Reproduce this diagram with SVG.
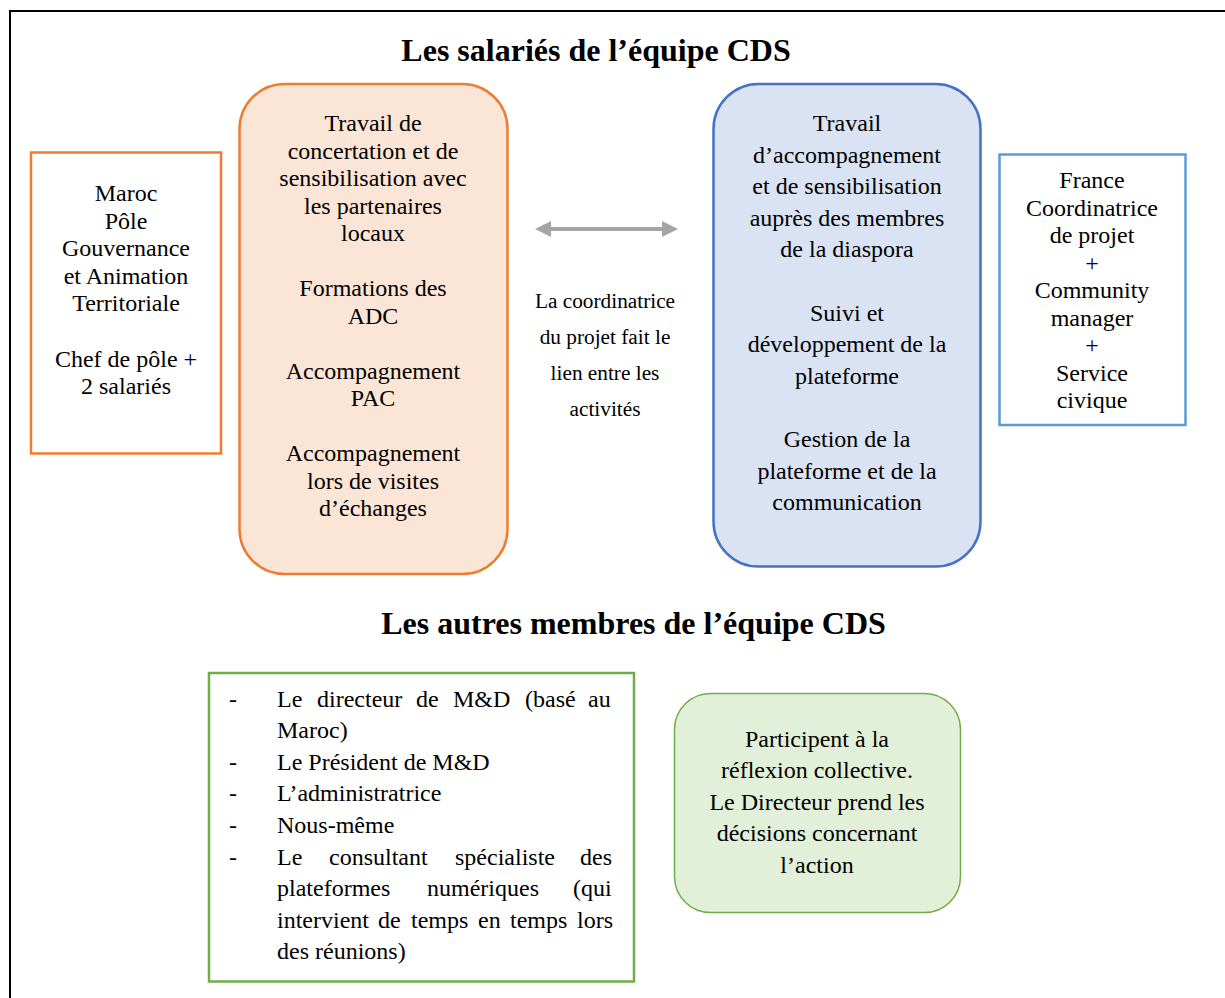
<svg xmlns="http://www.w3.org/2000/svg" width="1225" height="998" viewBox="0 0 1225 998">
<style>
text{font-family:"Liberation Serif","Times New Roman",serif;fill:#000}
.t{font-size:24px;text-anchor:middle}
.l{font-size:24px}
.m{font-size:21.3px;text-anchor:middle}
.h{font-size:32px;font-weight:bold;text-anchor:middle}
</style>
<defs>
<marker id="ah" viewBox="0 0 16 16" refX="2" refY="8" markerWidth="16" markerHeight="16" markerUnits="userSpaceOnUse" orient="auto-start-reverse">
<path d="M0,0 L16,8 L0,16 Z" fill="#A5A5A5"/>
</marker>
</defs>
<rect width="1225" height="998" fill="#fff"/>
<path d="M10,998 V11 H1225" fill="none" stroke="#000" stroke-width="2"/>

<g id="title1"><text class="h" x="596" y="61">Les salariés de l’équipe CDS</text></g>

<g id="maroc">
<rect x="31" y="152.5" width="190" height="301" fill="#fff" stroke="#ED7D31" stroke-width="2.5"/>
<text class="t" x="126"><tspan x="126" y="201">Maroc</tspan><tspan x="126" y="228.6">Pôle</tspan><tspan x="126" y="256.2">Gouvernance</tspan><tspan x="126" y="283.8">et Animation</tspan><tspan x="126" y="311.4">Territoriale</tspan><tspan x="126" y="366.6">Chef de pôle +</tspan><tspan x="126" y="394.2">2 salariés</tspan></text>
</g>

<g id="activites-maroc">
<rect x="239.5" y="84" width="268" height="490" rx="45" ry="45" fill="#FBE5D6" stroke="#ED7D31" stroke-width="2.5"/>
<text class="t"><tspan x="373" y="131">Travail de</tspan><tspan x="373" y="158.5">concertation et de</tspan><tspan x="373" y="186">sensibilisation avec</tspan><tspan x="373" y="213.5">les partenaires</tspan><tspan x="373" y="241">locaux</tspan><tspan x="373" y="296">Formations des</tspan><tspan x="373" y="323.5">ADC</tspan><tspan x="373" y="378.5">Accompagnement</tspan><tspan x="373" y="406">PAC</tspan><tspan x="373" y="461">Accompagnement</tspan><tspan x="373" y="488.5">lors de visites</tspan><tspan x="373" y="516">d’échanges</tspan></text>
</g>

<g id="coordinatrice">
<text class="m"><tspan x="605" y="307.5">La coordinatrice</tspan><tspan x="605" y="343.8">du projet fait le</tspan><tspan x="605" y="380">lien entre les</tspan><tspan x="605" y="416.3">activités</tspan></text>
</g>

<g id="activites-france">
<rect x="713.5" y="84" width="267" height="482.5" rx="45" ry="45" fill="#DAE3F3" stroke="#4472C4" stroke-width="2.5"/>
<text class="t"><tspan x="847" y="131">Travail</tspan><tspan x="847" y="162.6">d’accompagnement</tspan><tspan x="847" y="194.2">et de sensibilisation</tspan><tspan x="847" y="225.8">auprès des membres</tspan><tspan x="847" y="257.4">de la diaspora</tspan><tspan x="847" y="320.6">Suivi et</tspan><tspan x="847" y="352.2">développement de la</tspan><tspan x="847" y="383.8">plateforme</tspan><tspan x="847" y="447">Gestion de la</tspan><tspan x="847" y="478.6">plateforme et de la</tspan><tspan x="847" y="510.2">communication</tspan></text>
</g>

<g id="france">
<rect x="999.5" y="154.5" width="186" height="270.5" fill="#fff" stroke="#5B9BD5" stroke-width="2.5"/>
<text class="t"><tspan x="1092" y="188">France</tspan><tspan x="1092" y="215.5">Coordinatrice</tspan><tspan x="1092" y="243">de projet</tspan><tspan x="1092" y="270.5">+</tspan><tspan x="1092" y="298">Community</tspan><tspan x="1092" y="325.5">manager</tspan><tspan x="1092" y="353">+</tspan><tspan x="1092" y="380.5">Service</tspan><tspan x="1092" y="408">civique</tspan></text>
</g>

<g id="connectors">
<line x1="549" y1="229" x2="664" y2="229" stroke="#A5A5A5" stroke-width="4" marker-start="url(#ah)" marker-end="url(#ah)"/>
</g>

<g id="title2"><text class="h" x="633.5" y="634">Les autres membres de l’équipe CDS</text></g>

<g id="autres-membres">
<rect x="209" y="673" width="425" height="308.5" fill="#fff" stroke="#70AD47" stroke-width="2.5"/>
<text class="l">
<tspan x="229" y="706.5">-</tspan>
<tspan x="277" y="706.5">Le</tspan><tspan x="317" y="706.5">directeur</tspan><tspan x="416" y="706.5">de</tspan><tspan x="453" y="706.5">M&amp;D</tspan><tspan x="525" y="706.5">(basé</tspan><tspan x="588" y="706.5">au</tspan>
<tspan x="277" y="738">Maroc)</tspan>
<tspan x="229" y="769.7">-</tspan><tspan x="277" y="769.7">Le Président de M&amp;D</tspan>
<tspan x="229" y="801.3">-</tspan><tspan x="277" y="801.3">L’administratrice</tspan>
<tspan x="229" y="832.9">-</tspan><tspan x="277" y="832.9">Nous-même</tspan>
<tspan x="229" y="864.5">-</tspan>
<tspan x="277" y="864.5">Le</tspan><tspan x="329" y="864.5">consultant</tspan><tspan x="455" y="864.5">spécialiste</tspan><tspan x="580" y="864.5">des</tspan>
<tspan x="277" y="896">plateformes</tspan><tspan x="427" y="896">numériques</tspan><tspan x="573" y="896">(qui</tspan>
<tspan x="277" y="927.7">intervient</tspan><tspan x="378" y="927.7">de</tspan><tspan x="411" y="927.7">temps</tspan><tspan x="478" y="927.7">en</tspan><tspan x="510" y="927.7">temps</tspan><tspan x="577" y="927.7">lors</tspan>
<tspan x="277" y="959.3">des réunions)</tspan>
</text>
</g>

<g id="reflexion">
<rect x="674.5" y="693.5" width="286" height="219" rx="36" ry="36" fill="#E2F0D9" stroke="#70AD47" stroke-width="1.5"/>
<text class="t"><tspan x="817" y="746.5">Participent à la</tspan><tspan x="817" y="778">réflexion collective.</tspan><tspan x="817" y="809.5">Le Directeur prend les</tspan><tspan x="817" y="841">décisions concernant</tspan><tspan x="817" y="872.5">l’action</tspan></text>
</g>
</svg>
